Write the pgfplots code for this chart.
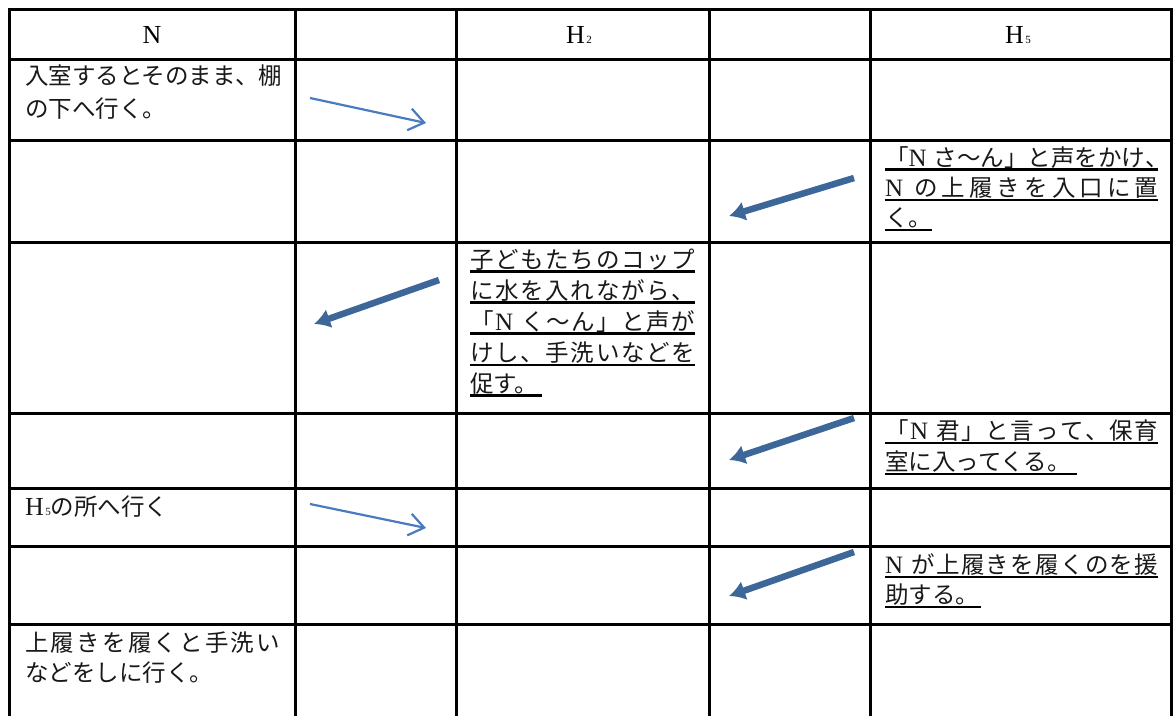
\documentclass[border=0pt]{standalone}
\usepackage{pgfplots}
\pgfplotsset{compat=1.18}
\usetikzlibrary{arrows.meta}
\usepackage{fontspec}
\setmainfont{Liberation Serif}
\newfontfamily\cjk{Noto Sans CJK JP}
\definecolor{thinblue}{HTML}{4A7BC0}
\definecolor{thickblue}{HTML}{3D6699}
\newcommand\NN{{\rmfamily\fontsize{25}{25}\selectfont N\kern7pt}}
\newcommand\Hs[1]{{\rmfamily\fontsize{26}{26}\selectfont H\kern1.5pt\fontsize{11}{11}\selectfont #1}}
\def\endsp{endsp-marker}
\def\spreadline#1{\spFirst#1\endsp}
\def\spFirst#1{#1\spB}
\def\spB#1{\ifx#1\endsp\else\hfil#1\expandafter\spB\fi}
\newcommand\Sp[2]{\makebox[#1pt][s]{\spreadline{#2}}}
\tikzset{
  jtext/.style={anchor=base west, inner sep=0pt, font=\cjk\fontsize{23.5}{23.5}\selectfont, text=black!90},
  grid line/.style={black, line width=3pt, line cap=rect},
  uline/.style={black, line width=2.8pt},
  thin arrow/.style={thinblue, line width=2.2pt, -{Straight Barb[length=15pt,width=22pt,line width=2.2pt]}},
  thick arrow/.style={thickblue, line width=6.5pt, -{Latex[length=16pt,width=20pt]}}}
\begin{document}
\begin{tikzpicture}
\begin{axis}[scale only axis, width=1173pt, height=714pt,
  xmin=0, xmax=1173, ymin=0, ymax=714, y dir=reverse,
  hide axis, clip=false]
% background
\addplot[fill=white, draw=none] coordinates {(0,0) (1173,0) (1173,714) (0,714) (0,0)};
% horizontal rules
\addplot[grid line] coordinates {(9,9) (1171,9)};
\addplot[grid line] coordinates {(9,59) (1171,59)};
\addplot[grid line] coordinates {(9,140) (1171,140)};
\addplot[grid line] coordinates {(9,242) (1171,242)};
\addplot[grid line] coordinates {(9,413) (1171,413)};
\addplot[grid line] coordinates {(9,488) (1171,488)};
\addplot[grid line] coordinates {(9,546) (1171,546)};
\addplot[grid line] coordinates {(9,624) (1171,624)};
% vertical rules
\addplot[grid line] coordinates {(9,9) (9,714)};
\addplot[grid line] coordinates {(295,9) (295,714)};
\addplot[grid line] coordinates {(456,9) (456,714)};
\addplot[grid line] coordinates {(709,9) (709,714)};
\addplot[grid line] coordinates {(870,9) (870,714)};
\addplot[grid line] coordinates {(1171,9) (1171,714)};
% headers
\node[anchor=base, inner sep=0pt, font=\rmfamily\fontsize{26}{26}\selectfont] at (axis cs:152,43.5) {N};
\node[anchor=base, inner sep=0pt] at (axis cs:579,43.5) {\Hs{2}};
\node[anchor=base, inner sep=0pt] at (axis cs:1018,43.5) {\Hs{5}};
% column N texts
\node[jtext] at (axis cs:25,84) {入室するとそのまま、棚};
\node[jtext] at (axis cs:25,117) {の下へ行く。};
\node[jtext] at (axis cs:25,515) {\Hs{5}の所へ行く};
\node[jtext] at (axis cs:25,651) {\Sp{255}{上履きを履くと手洗い}};
\node[jtext] at (axis cs:25,681) {などをしに行く。};
% column H2 texts
\node[jtext] at (axis cs:470,268) {\Sp{225}{子どもたちのコップ}};
\node[jtext] at (axis cs:470,299) {\Sp{225}{に水を入れながら、}};
\node[jtext] at (axis cs:470,330) {\Sp{225}{「\NN く〜ん」と声が}};
\node[jtext] at (axis cs:470,361) {\Sp{225}{けし、手洗いなどを}};
\node[jtext] at (axis cs:470,392) {促す。};
\addplot[uline] coordinates {(470,271.5) (695,271.5)};
\addplot[uline] coordinates {(470,302.5) (695,302.5)};
\addplot[uline] coordinates {(470,333.5) (695,333.5)};
\addplot[uline] coordinates {(470,365) (695,365)};
\addplot[uline] coordinates {(470,395.5) (542,395.5)};
% column H5 texts
\node[jtext] at (axis cs:885,166) {\Sp{273}{「\NN さ〜ん」と声をかけ、}};
\node[jtext] at (axis cs:885,196.5) {\Sp{273}{\NN の上履きを入口に置}};
\node[jtext] at (axis cs:885,226.5) {く。};
\addplot[uline] coordinates {(885,169.5) (1158,169.5)};
\addplot[uline] coordinates {(885,200) (1158,200)};
\addplot[uline] coordinates {(885,230) (932,230)};
\node[jtext] at (axis cs:885,439.5) {\Sp{273}{「\NN 君」と言って、保育}};
\node[jtext] at (axis cs:885,470.5) {室に入ってくる。};
\addplot[uline] coordinates {(885,443) (1158,443)};
\addplot[uline] coordinates {(885,474) (1077,474)};
\node[jtext] at (axis cs:885,573.5) {\Sp{273}{\NN が上履きを履くのを援}};
\node[jtext] at (axis cs:885,603.5) {助する。};
\addplot[uline] coordinates {(885,577) (1158,577)};
\addplot[uline] coordinates {(885,607) (981,607)};
% arrows
\addplot[thin arrow] coordinates {(310,98) (426,123)};
\addplot[thin arrow] coordinates {(310,504) (426,528)};
\addplot[thick arrow] coordinates {(854,178) (729,216)};
\addplot[thick arrow] coordinates {(439,280) (314,324)};
\addplot[thick arrow] coordinates {(854,418) (729,460)};
\addplot[thick arrow] coordinates {(854,552) (729,596)};
\end{axis}
\end{tikzpicture}
\end{document}
